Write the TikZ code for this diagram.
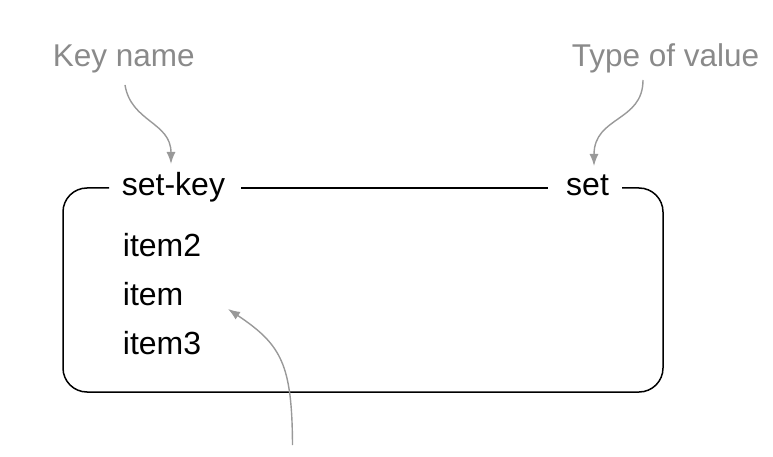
\documentclass[tikz,border=0pt]{standalone}
\usepackage{fontspec}
\setmainfont{Liberation Sans}
\usetikzlibrary{arrows.meta}
\definecolor{labelgray}{HTML}{8A8A8A}
\definecolor{arrowgray}{HTML}{999999}
\tikzset{
  lbl/.style={anchor=base west,inner sep=0pt,text=labelgray,font=\fontsize{31.5}{36}\selectfont},
  txt/.style={anchor=base west,inner sep=0pt,text=black,font=\fontsize{32}{36}\selectfont},
  boxline/.style={draw=black,line width=1.5pt},
  pointer/.style={draw=arrowgray,line width=1.4pt,-{Latex[length=12pt,width=9pt]}},
}
\begin{document}
\begin{tikzpicture}[x=1pt,y=-1pt]
\useasboundingbox (0,0) rectangle (773,457);
% labels
\node[lbl] (keyname) at (52.7,66.7) {Key name};
\node[lbl] (typeval) at (571.7,66.7) {Type of value};
% header texts
\node[txt] (setkey) at (121.7,195.5) {set-key};
\node[txt] (settype) at (566,195.5) {set};
% items
\node[txt] (item2) at (122.7,256.7) {item2};
\node[txt] (item) at (122.7,305.5) {item};
\node[txt] (item3) at (122.7,354.2) {item3};
% box outline
\coordinate (tl) at (109,188);
\coordinate (tr) at (622,188);
\draw[boxline,rounded corners=24pt] (tl) -- (63,188) -- (63,392) -- (663,392) -- (663,188) -- (tr);
\coordinate (ml) at (241,188);
\coordinate (mr) at (548,188);
\draw[boxline] (ml) -- (mr);
% pointers
\coordinate (k1) at (125,85);
\coordinate (k2) at (171,164);
\draw[pointer] (k1) .. controls (131,122) and (171,122) .. (k2);
\coordinate (t1) at (643,80);
\coordinate (t2) at (594,166);
\draw[pointer] (t1) .. controls (643,122) and (594,116) .. (t2);
\coordinate (b1) at (292.5,445);
\coordinate (b2) at (228,309);
\draw[pointer] (b1) .. controls (292,365) and (282,345) .. (b2);
\end{tikzpicture}
\end{document}
